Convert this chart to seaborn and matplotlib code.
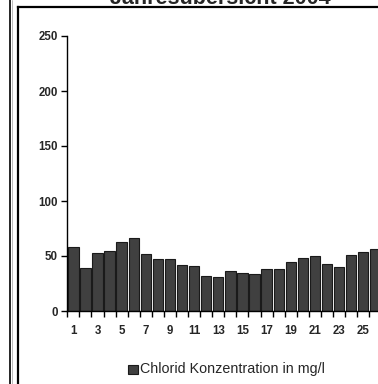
import matplotlib
matplotlib.use("Agg")
import matplotlib.pyplot as plt
import seaborn as sns
import pandas as pd
from matplotlib.lines import Line2D
from matplotlib.patches import Rectangle

days = [str(i) for i in range(1, 27)]
chlorid = [58, 39, 53, 54.5, 62.5, 66, 52, 47, 47, 42, 41, 32, 31, 36, 34.5, 33.5,
           38.5, 38, 44.5, 48.5, 50, 43, 40, 51, 53.5, 56.5]
series_name = "Chlorid Konzentration in mg/l"
title = "Jahresübersicht 2004"
yticks = [0, 50, 100, 150, 200, 250]

sns.set_theme(style="white")
plt.rcParams['font.family'] = ['Liberation Sans', 'DejaVu Sans']

W, H = 378, 384
fig = plt.figure(figsize=(W / 100, H / 100), dpi=100)
ax_left = 67.3
ax_w = 26 * 12.08
ax_bottom = 311
ax_top = 36
ax = fig.add_axes([ax_left / W, 1 - ax_bottom / H, ax_w / W, (ax_bottom - ax_top) / H])

df = pd.DataFrame({"day": days, "value": chlorid})
sns.barplot(data=df, x="day", y="value", ax=ax, color="#404040", width=0.86,
            edgecolor="#1a1a1a", linewidth=0.8, saturation=1)

ax.set_xlim(-0.5, 25.5)
ax.set_ylim(0, 250)
ax.set_xlabel("")
ax.set_ylabel("")
for s in ["top", "right"]:
    ax.spines[s].set_visible(False)
for s in ["left", "bottom"]:
    ax.spines[s].set_color("black")
    ax.spines[s].set_linewidth(1.0)

ax.set_yticks(yticks)
ax.set_yticklabels([str(v) for v in yticks], fontsize=8.3, fontweight="bold")
ax.tick_params(axis="y", direction="out", length=4, width=1, color="black", pad=3, left=True)

# minor ticks at category boundaries, labels every other category
ax.set_xticks([i - 0.5 for i in range(0, 27)], minor=True)
ax.set_xticks(list(range(0, 26, 2)))
ax.set_xticklabels([days[i] for i in range(0, 26, 2)], fontsize=8.3, fontweight="bold")
ax.tick_params(axis="x", which="major", length=0, pad=10, bottom=True)
ax.tick_params(axis="x", which="minor", direction="out", length=4, width=1, color="black", bottom=True)

# legend
fig.patches.append(Rectangle((128 / W, 1 - 374 / H), 9.5 / W, 9.5 / H,
                             transform=fig.transFigure, facecolor="#404040",
                             edgecolor="#1a1a1a", linewidth=0.8))
fig.text(140 / W, 1 - 369.5 / H, series_name, fontsize=10.3, va="center", ha="left")

# title (cut off at top, as in the reference)
fig.text(220 / W, 1 - 4.5 / H, title, fontsize=15.5, fontweight="bold",
         ha="center", va="baseline")

# frame lines
fig.add_artist(Line2D([10 / W, 10 / W], [0, 1], transform=fig.transFigure,
                      color="black", linewidth=1.2))
fig.add_artist(Line2D([12 / W, 12 / W], [0, 1], transform=fig.transFigure,
                      color="#b0b0b0", linewidth=0.6))
fig.add_artist(Line2D([18 / W, 18 / W], [0, 1 - 7 / H], transform=fig.transFigure,
                      color="black", linewidth=1.6, solid_capstyle="projecting"))
fig.add_artist(Line2D([18 / W, 1], [1 - 7 / H, 1 - 7 / H], transform=fig.transFigure,
                      color="black", linewidth=1.6, solid_capstyle="projecting"))

fig.savefig("out.png", dpi=100, facecolor="white")
